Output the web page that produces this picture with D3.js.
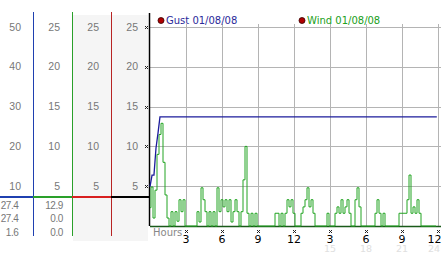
<!DOCTYPE html>
<html>
<head>
<meta charset="utf-8">
<script src="https://cdn.jsdelivr.net/npm/d3@7"></script>
<style>
  body { margin: 0; background: #fff; }
  svg { display: block; font-family: "DejaVu Sans", sans-serif; }
</style>
</head>
<body>
<svg width="442" height="253"></svg>
<script>
// values
const gustTicks = [10, 20, 30, 40, 50];
const windTicks = [5, 10, 15, 20, 25];
const hourTicks = [3, 6, 9, 12, 15, 18, 21, 24];
const hourLabels = ['3', '6', '9', '12', '3', '6', '9', '12'];
const dayLabels = [15, 18, 21, 24];
const gustStats = ['27.4', '27.4', '1.6'];
const windStats = ['12.9', '0.0', '0.0'];

// gust: [hour, mph]
const gust = [[0, 9.9], [0.17, 12.8], [0.33, 12.8], [0.5, 19.6], [0.67, 23.4], [0.83, 27.4], [23.9, 27.4]];

// wind every 10 minutes
const wind = [
  2.3, 4.9, 1.0, 4.5, 9.0, 11.5, 12.9, 8.0, 3.9, 1.0,
  0, 1.8, 0, 1.8, 0.6, 3.3, 1.8, 3.3, 0, 0,
  0, 0, 0, 0, 1.8, 0.5, 4.8, 3.3, 1.8, 0,
  1.8, 0, 1.8, 0, 4.8, 1.8, 3.3, 2.4, 3.3, 1.8,
  3.3, 0.5, 1.8, 3.3, 1.8, 0, 1.8, 5.8, 10.0, 1.6,
  0, 1.6, 0, 1.6, 0, 0, 0, 0, 0, 0,
  0, 0, 0, 1.6, 1.6, 0, 1.6, 0, 1.6, 3.3,
  2.4, 3.3, 1.6, 0, 0, 0, 1.6, 2.4, 3.3, 4.8,
  2.4, 3.3, 1.6, 0, 0, 0, 0, 0, 0, 1.6,
  0, 0, 0, 1.6, 2.4, 1.6, 3.3, 1.6, 2.4, 3.3,
  1.6, 0, 0, 3.3, 4.8, 2.4, 0, 0, 0, 0,
  0, 0, 0, 1.6, 3.3, 1.6, 0, 1.6, 0, 0,
  0, 0, 0, 0, 0, 1.6, 1.6, 1.6, 1.6, 3.3,
  6.4, 1.6, 2.4, 1.6, 3.3, 1.6, 0, 0, 0, 0,
  0, 0, 0, 0
];

const svg = d3.select('svg');
const x = d3.scaleLinear().domain([0, 24]).range([150, 438]);
const yGust = d3.scaleLinear().domain([0, 50]).range([226, 27]);
const yWind = d3.scaleLinear().domain([0, 25]).range([226, 27]);

// grey panels behind the two right scale columns
svg.append('rect').attr('x', 73).attr('y', 15).attr('width', 75).attr('height', 226).attr('fill', '#f5f5f5');

// left scale columns
const cols = [
  {x: 21, ticks: gustTicks, scale: yGust},
  {x: 60, ticks: windTicks, scale: yWind},
  {x: 99, ticks: windTicks, scale: yWind},
  {x: 138, ticks: windTicks, scale: yWind}
];
cols.forEach(c => {
  svg.append('g').selectAll('text').data(c.ticks).enter().append('text')
    .attr('x', c.x).attr('y', d => c.scale(d)).attr('dy', '0.35em')
    .attr('text-anchor', 'end').attr('font-size', 10.5).attr('fill', '#777')
    .attr('font-family', 'Liberation Sans')
    .text(d => d);
});

// stats under the separator
[[18.5, gustStats], [63, windStats]].forEach(([cx, vals]) => {
  svg.append('g').selectAll('text').data(vals).enter().append('text')
    .attr('x', cx).attr('y', (d, i) => 205 + i * 13.8).attr('dy', '0.35em')
    .attr('text-anchor', 'end').attr('font-size', 10).attr('fill', '#777')
    .attr('font-family', 'Liberation Sans').attr('letter-spacing', -0.4)
    .text(d => d);
});

// column lines + separator
const colLines = [[33.5, '#1f40b0'], [72.5, '#2aa02a'], [111.5, '#b82424']];
colLines.forEach(([lx, c]) => {
  svg.append('line').attr('x1', lx).attr('x2', lx).attr('y1', 12).attr('y2', 236)
    .attr('stroke', c).attr('stroke-width', 1);
});
const sep = [[0, 33, '#1f40b0'], [33, 72, '#2aa02a'], [72, 111, '#d82020'], [111, 150, '#000']];
sep.forEach(([a, b, c]) => {
  svg.append('line').attr('x1', a).attr('x2', b).attr('y1', 197).attr('y2', 197)
    .attr('stroke', c).attr('stroke-width', 2);
});

// grid
const grid = svg.append('g').attr('stroke', '#b4b4b4').attr('stroke-width', 1);
grid.selectAll('.h').data(windTicks).enter().append('line')
  .attr('x1', 150).attr('x2', 441)
  .attr('y1', d => Math.round(yWind(d)) + 0.5).attr('y2', d => Math.round(yWind(d)) + 0.5);
grid.selectAll('.v').data(hourTicks).enter().append('line')
  .attr('x1', d => Math.round(x(d)) + 0.5).attr('x2', d => Math.round(x(d)) + 0.5)
  .attr('y1', 24).attr('y2', 226);

// axis line
svg.append('line').attr('x1', 149.5).attr('x2', 149.5).attr('y1', 13).attr('y2', 226)
  .attr('stroke', '#000').attr('stroke-width', 1.5);
svg.append('line').attr('x1', 150).attr('x2', 441).attr('y1', 226.5).attr('y2', 226.5)
  .attr('stroke', '#1a5a1a').attr('stroke-width', 1.5);

// little dotted tick marks
function mark(g, cx, cy) {
  [[-1, -1], [1, -1], [0, 0], [-1, 1], [1, 1]].forEach(([dx, dy]) => {
    g.append('rect').attr('x', cx + dx).attr('y', cy + dy).attr('width', 1).attr('height', 1).attr('fill', '#222');
  });
}
const marks = svg.append('g');
windTicks.forEach(d => mark(marks, 146, Math.round(yWind(d))));
hourTicks.forEach(d => mark(marks, Math.round(x(d)), 231));

// wind line
const windLine = d3.line().curve(d3.curveStep).x((d, i) => x(i / 6)).y(d => yWind(d));
svg.append('path').datum(wind).attr('d', windLine)
  .attr('fill', 'none').attr('stroke', '#22a422').attr('stroke-width', 1);

// gust line
const gustLine = d3.line().x(d => x(d[0])).y(d => yGust(d[1]));
svg.append('path').datum(gust).attr('d', gustLine)
  .attr('fill', 'none').attr('stroke', '#1c1c9c').attr('stroke-width', 1.3);

// hour labels
svg.append('g').selectAll('text').data(dayLabels).enter().append('text')
  .attr('x', d => Math.min(x(d), 434)).attr('y', 248.5).attr('dy', '0.35em')
  .attr('text-anchor', 'middle').attr('font-size', 9.5).attr('fill', '#e0e0e0')
  .text(d => d);
svg.append('g').selectAll('text').data(hourTicks).enter().append('text')
  .attr('x', d => Math.min(x(d), 434.5)).attr('y', 239).attr('dy', '0.35em')
  .attr('text-anchor', 'middle').attr('font-size', 11).attr('fill', '#000')
  .text((d, i) => hourLabels[i]);
svg.append('text').attr('x', 153).attr('y', 232).attr('dy', '0.35em')
  .attr('font-size', 10).attr('fill', '#888').text('Hours');

// legend
const legend = [
  {x: 161, label: 'Gust 01/08/08', color: '#2a2a9a'},
  {x: 302, label: 'Wind 01/08/08', color: '#20a020'}
];
legend.forEach(l => {
  svg.append('circle').attr('cx', l.x).attr('cy', 20.5).attr('r', 3)
    .attr('fill', '#b00000').attr('stroke', '#300').attr('stroke-width', 0.8);
  svg.append('text').attr('x', l.x + 5).attr('y', 20.5).attr('dy', '0.35em')
    .attr('font-size', 10).attr('fill', l.color).text(l.label);
});
</script>
</body>
</html>
